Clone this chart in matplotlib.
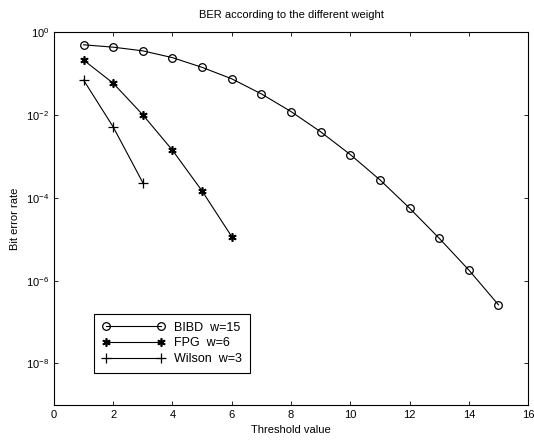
import matplotlib
matplotlib.use("Agg")
import matplotlib.pyplot as plt
from matplotlib.ticker import FixedLocator, NullLocator

plt.rcParams['font.family'] = ['Liberation Sans', 'DejaVu Sans']
plt.rcParams['font.size'] = 8

# data
x_bibd = [1, 2, 3, 4, 5, 6, 7, 8, 9, 10, 11, 12, 13, 14, 15]
ber_bibd = [0.49, 0.43, 0.35, 0.24, 0.14, 0.074, 0.032, 0.012, 3.9e-3,
            1.1e-3, 2.7e-4, 5.6e-5, 1.05e-5, 1.8e-6, 2.6e-7]
x_fpg = [1, 2, 3, 4, 5, 6]
ber_fpg = [0.21, 0.058, 0.01, 1.4e-3, 1.45e-4, 1.15e-5]
x_wilson = [1, 2, 3]
ber_wilson = [0.069, 5.1e-3, 2.3e-4]

fig = plt.figure(figsize=(5.34, 4.44), dpi=100)
ax = fig.add_axes([0.101, 0.088, 0.888, 0.84])

ax.semilogy(x_bibd, ber_bibd, 'k-', marker='o', mfc='none', ms=5.5, mew=0.9,
            lw=0.8, label='BIBD  w=15')
ax.semilogy(x_fpg, ber_fpg, 'k-', marker=(6, 2, 0), ms=6, mew=1.2, lw=0.8,
            label='FPG  w=6')
ax.semilogy(x_wilson, ber_wilson, 'k-', marker='+', ms=7, mew=0.9, lw=0.8,
            label='Wilson  w=3')

ax.set_xlim(0, 16)
ax.set_ylim(1e-9, 1)
ax.set_xticks(range(0, 17, 2))
ax.yaxis.set_major_locator(FixedLocator([1e0, 1e-2, 1e-4, 1e-6, 1e-8]))
ax.yaxis.set_minor_locator(NullLocator())
ax.tick_params(direction='in', top=True, right=True, length=3, width=0.6)
for s in ax.spines.values():
    s.set_linewidth(0.8)

ax.set_title('BER according to the different weight', fontsize=8, pad=10)
ax.set_xlabel('Threshold value', fontsize=8)
ax.set_ylabel('Bit error rate', fontsize=8)

leg = ax.legend(loc='lower left', bbox_to_anchor=(0.072, 0.07), handlelength=5,
                numpoints=2, fancybox=False, edgecolor='k', framealpha=1,
                borderpad=0.6, labelspacing=0.3, fontsize=9)
leg.get_frame().set_linewidth(0.8)

fig.savefig('out.png', dpi=100)
